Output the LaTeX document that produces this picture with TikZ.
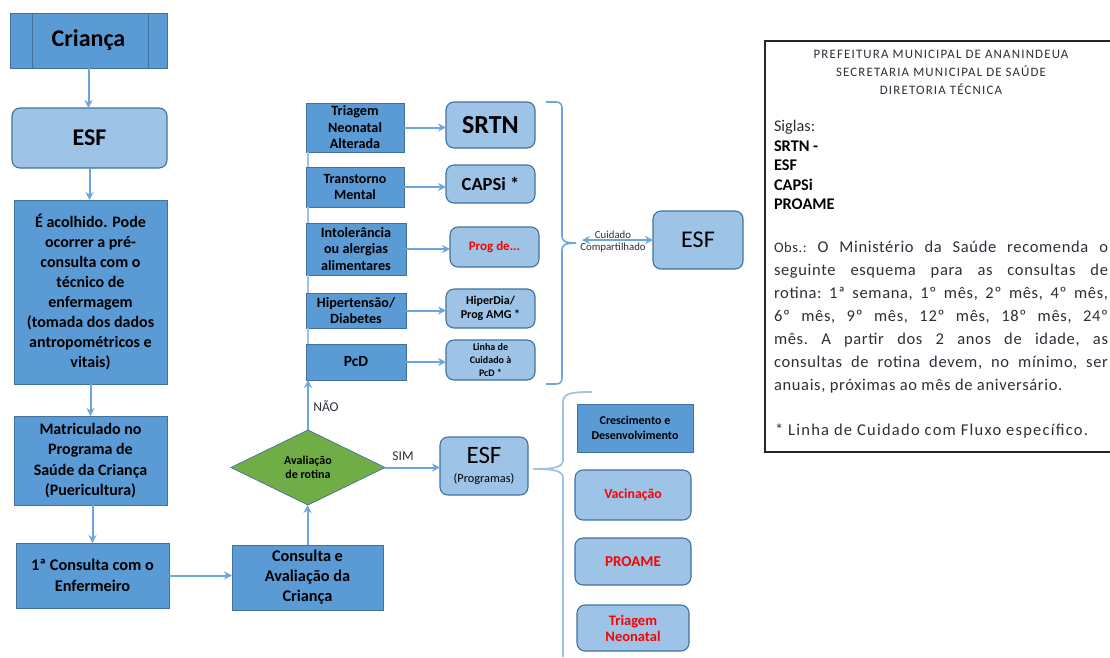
\documentclass[tikz,border=0pt]{standalone}
\usepackage{fontspec}
\setmainfont{Carlito}
\newfontfamily\obsfont[LetterSpace=4]{Carlito}
\newfontfamily\fluxfont[LetterSpace=7.5]{Carlito}
\newfontfamily\headfont[LetterSpace=9]{Carlito}
\usetikzlibrary{arrows.meta,shapes.geometric}
\definecolor{darkfill}{HTML}{5B9BD5}
\definecolor{lightfill}{HTML}{9DC3E6}
\definecolor{edgeblue}{HTML}{41719C}
\definecolor{linkblue}{HTML}{6CA6DC}
\definecolor{paleblue}{HTML}{9DC3E6}
\definecolor{leafgreen}{HTML}{70AD47}
\definecolor{softink}{HTML}{2B2F38}
\newcommand\fsz[2]{\fontsize{#1pt}{#2pt}\selectfont}
\tikzset{
  base/.style={inner sep=0pt,outer sep=0pt,align=center,text=black},
  sqbox/.style={base,draw=edgeblue,line width=0.9pt,fill=darkfill},
  rdbox/.style={base,draw=edgeblue,line width=1.1pt,fill=lightfill,rounded corners=8pt},
  link/.style={draw=linkblue,line width=2pt,-{Stealth[length=8pt,width=8pt]}},
  plainlink/.style={draw=paleblue,line width=2.4pt},
  brace/.style={draw=linkblue,line width=1.6pt},
  palebrace/.style={draw=paleblue,line width=1.8pt},
  redtext/.style={text=red}
}
\newcommand\bx[6]{\node[#2,minimum width={#5-#3},minimum height={#6-#4}] (#1) at ({(#3+#5)/2},{(#4+#6)/2})}
\begin{document}
\begin{tikzpicture}[x=1pt,y=-1pt]
\useasboundingbox (0,0) rectangle (1110,657);
\bx{crianca}{sqbox,font=\fsz{24}{26}\bfseries}{10}{13}{167}{68} {\raisebox{-1pt}{Criança}};
\draw[edgeblue,line width=0.9pt] ([xshift=22pt]crianca.north west) -- ([xshift=22pt]crianca.south west);
\draw[edgeblue,line width=0.9pt] ([xshift=-19pt]crianca.north east) -- ([xshift=-19pt]crianca.south east);
\bx{esfa}{rdbox,font=\fsz{24}{26}\bfseries}{12}{108}{167}{168} {ESF};
\bx{acolhe}{sqbox,font=\fsz{16}{20.1}\bfseries}{14}{200}{167}{384} {É acolhido. Pode\\ocorrer a pré-\\consulta  com o\\técnico de\\enfermagem\\(tomada dos dados\\antropométricos e\\vitais)};
\bx{matric}{sqbox,font=\fsz{16}{20.5}\bfseries}{14}{416}{167}{505} {Matriculado no\\Programa de\\Saúde da Criança\\(Puericultura)};
\bx{primeira}{sqbox,font=\fsz{16.3}{20.5}\bfseries}{16}{543}{169}{608} {1ª Consulta com o\\Enfermeiro};
\bx{consulta}{sqbox,font=\fsz{16.3}{20}\bfseries}{232}{545}{383}{610} {Consulta e\\Avaliação da\\Criança};
\node[base,diamond,draw=edgeblue,line width=0.7pt,fill=leafgreen,minimum width=154pt,minimum height=75pt,aspect=2.05,font=\fsz{12}{14.5}\bfseries] (rotina) at (308,467.5) {Avaliação\\de rotina};
\bx{esfp}{rdbox,font=\fsz{25}{24}}{440}{437}{528}{495} {ESF\\[-5pt]{\fsz{12.3}{12}(Programas)}};
\bx{cresc}{sqbox,font=\fsz{12}{14.5}\bfseries}{577}{404}{693}{452} {Crescimento e\\Desenvolvimento};
\bx{vacina}{rdbox,redtext,font=\fsz{13.8}{14}\bfseries}{575}{470}{691}{520} {Vacinação};
\bx{proame}{rdbox,redtext,font=\fsz{15}{14}\bfseries}{575}{538}{691}{585} {PROAME};
\bx{trineo}{rdbox,redtext,font=\fsz{14.5}{16}\bfseries}{577}{605}{689}{651} {Triagem\\Neonatal};
\bx{tria}{sqbox,font=\fsz{14.2}{16.5}\bfseries}{306}{103}{404}{152} {Triagem\\Neonatal\\Alterada};
\bx{trans}{sqbox,font=\fsz{14}{16.5}\bfseries}{306}{167}{404}{207} {Transtorno\\Mental};
\bx{intol}{sqbox,font=\fsz{14.2}{16.5}\bfseries}{306}{223}{406}{275} {Intolerância\\ou alergias\\alimentares};
\bx{hiper}{sqbox,font=\fsz{14.2}{16.5}\bfseries}{306}{293}{406}{328} {Hipertensão/\\Diabetes};
\bx{pcd}{sqbox,font=\fsz{15.5}{15}\bfseries}{306}{344}{406}{380} {PcD};
\bx{srtn}{rdbox,font=\fsz{26}{28}\bfseries}{446}{102}{535}{148} {SRTN};
\bx{capsi}{rdbox,font=\fsz{18.5}{20}\bfseries}{446}{165}{535}{203} {CAPSi *};
\bx{progde}{rdbox,redtext,font=\fsz{13}{13}\bfseries}{450}{227}{539}{267} {Prog de...};
\bx{hiperdia}{rdbox,font=\fsz{12}{14.5}\bfseries}{446}{289}{535}{328} {HiperDia/\\Prog AMG *};
\bx{linha}{rdbox,font=\fsz{10}{13}\bfseries}{446}{340}{535}{380} {Linha de\\Cuidado à\\PcD *};
\bx{esfr}{rdbox,font=\fsz{24}{26}}{653}{211}{743}{269} {ESF};
% connectors
\draw[link] (crianca.south) -- (crianca.south |- esfa.north);
\draw[link] (esfa.south) -- (esfa.south |- acolhe.north);
\draw[link] (acolhe.south) -- (acolhe.south |- matric.north);
\draw[link] ([xshift=2pt]matric.south) -- ([xshift=2pt]matric.south |- primeira.north);
\draw[link] (primeira.east) -- (primeira.east -| consulta.west);
\draw[link] (consulta.north) -- (consulta.north |- rotina.south);
\draw[link] (rotina.north) -- (rotina.north |- pcd.south);
\draw[plainlink] (rotina.north |- pcd.north) -- (rotina.north |- hiper.south);
\draw[plainlink] (rotina.north |- hiper.north) -- (rotina.north |- intol.south);
\draw[plainlink] (rotina.north |- intol.north) -- (rotina.north |- trans.south);
\draw[plainlink] (rotina.north |- trans.north) -- (rotina.north |- tria.south);
\draw[link] (rotina.east) -- (rotina.east -| esfp.west);
\draw[link] (tria.east) -- (tria.east -| srtn.west);
\draw[link] (trans.east) -- (trans.east -| capsi.west);
\draw[link] (intol.east) -- (intol.east -| progde.west);
\draw[link] (hiper.east) -- (hiper.east -| hiperdia.west);
\draw[link] (pcd.east) -- (pcd.east -| linha.west);
\coordinate (shared) at (582,240);
\draw[link,{Stealth[length=8pt,width=8pt]}-{Stealth[length=8pt,width=8pt]}] (shared) -- (shared -| esfr.west);
% labels
\node[base,text=softink,font=\fsz{13.5}{13}] (nao) at (326,406) {NÃO};
\node[base,text=softink,font=\fsz{13.5}{13}] (sim) at (403,456) {SIM};
\node[base,text=softink,font=\fsz{10.8}{12.6}] (cuidado) at (613,241.5) {Cuidado\\Compartilhado};
% brackets
\draw[brace] (546,102) -- (556,102) .. controls (560,102) and (562,104) .. (562,108) -- (562,236) .. controls (562,241) and (565,243) .. (576,243);
\draw[brace] (546,384) -- (556,384) .. controls (560,384) and (562,382) .. (562,378) -- (562,250) .. controls (562,245) and (565,243) .. (576,243);
\draw[palebrace] (592,392) .. controls (572,392) and (563,393) .. (563,402) -- (563,460) .. controls (563,467) and (555,469) .. (533,469);
\draw[palebrace] (533,469) .. controls (555,469) and (563,471) .. (563,478) -- (563,657);
% legend panel
\draw[black!85,line width=1.4pt] (1110,41) -- (765,41) -- (765,452) -- (1110,452);
\node[base,text=softink,font=\fsz{12.9}{18}\headfont] (cabec) at (941,72) {PREFEITURA  MUNICIPAL DE ANANINDEUA\\SECRETARIA  MUNICIPAL DE SAÚDE\\DIRETORIA TÉCNICA};
\node[base,anchor=north west,align=left,font=\fsz{16.3}{19.5}\bfseries] (siglas) at (774,120.5) {{\mdseries\color{softink}Siglas:}\\SRTN -\\ESF\\CAPSi\\PROAME};
\node[base,anchor=north west,align=justify,text width=334pt,text=softink,font=\fsz{16.5}{23}\obsfont\frenchspacing] (obs) at (774,241) {{\fsz{14.5}{23}Obs.:} O Ministério da Saúde recomenda o\linebreak seguinte esquema para as consultas de\linebreak rotina: 1ª semana, 1º mês, 2º mês, 4º mês,\linebreak 6º mês, 9º mês, 12º mês, 18º mês, 24º\linebreak mês. A partir dos 2 anos de idade, as\linebreak consultas de rotina devem, no mínimo, ser\linebreak anuais, próximas ao mês de aniversário.\par};
\node[base,anchor=west,text=softink,font=\fsz{16.5}{18}\fluxfont] (fluxo) at (775,431) {* Linha de Cuidado com Fluxo específico.};
\end{tikzpicture}
\end{document}
